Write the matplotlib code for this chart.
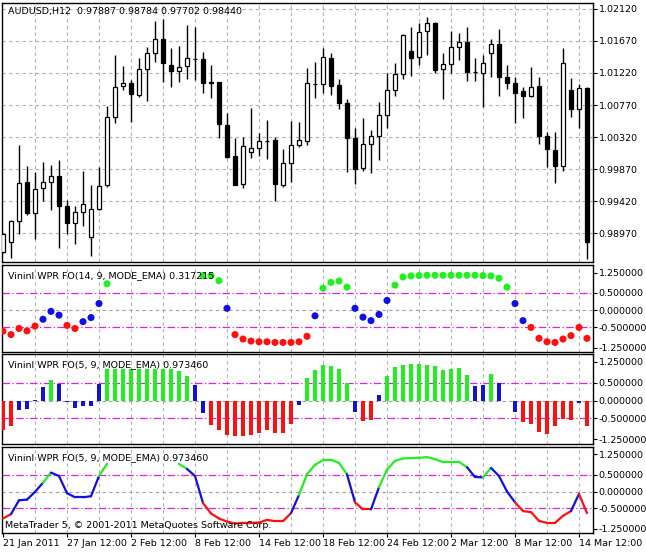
import matplotlib
matplotlib.use("Agg")
import matplotlib.pyplot as plt
import numpy as np

opens = [0.98702,0.98843,0.99142,0.99685,0.99250,0.99601,0.99685,0.99774,0.99353,0.99109,
         0.99264,0.98913,0.99306,0.99643,1.00608,1.01039,1.01076,1.00912,1.01273,1.01497,
         1.01694,1.01333,1.01254,1.01324,1.01418,1.01413,1.01099,1.01099,1.00491,1.00055,
         0.99657,1.00107,1.00163,1.00266,1.00280,0.99639,0.99952,1.00201,1.00270,1.01067,
         1.01062,1.01427,1.01048,1.00795,1.00303,0.99882,1.00219,1.00331,1.00626,1.00982,
         1.01206,1.01530,1.01441,1.01811,1.01919,1.01273,1.01343,1.01591,1.01661,1.01230,
         1.01216,1.01497,1.01626,1.01170,1.01076,1.00968,1.00903,1.01039,1.00341,1.00140,
         0.99919,1.00982,1.00720,1.01006]
highs = [0.98969,0.99156,1.00210,0.99919,0.99835,0.99966,0.99929,0.99999,0.99437,0.99353,
         0.99845,0.99648,0.99905,1.00757,1.01474,1.01320,1.01123,1.01427,1.01591,1.01956,
         1.01975,1.01568,1.01600,1.01895,1.01872,1.01521,1.01333,1.01099,1.00664,1.00313,
         1.00317,1.00734,1.00383,1.00561,1.00327,1.00154,1.00547,1.00537,1.01287,1.01380,
         1.01568,1.01497,1.01137,1.00856,1.00444,1.00584,1.00420,1.00809,1.01216,1.01357,
         1.01764,1.01862,1.01928,1.02012,1.01942,1.01497,1.01811,1.01778,1.01872,1.01427,
         1.01474,1.01699,1.01839,1.01333,1.01170,1.01029,1.01310,1.01170,1.00388,1.00397,
         1.01568,1.01151,1.01067,1.01020]
lows = [0.98688,0.98618,0.98955,0.99227,0.98885,0.99414,0.99287,0.98758,0.98955,0.98815,
        0.99063,0.98641,0.99287,0.99624,1.00514,1.00982,1.00537,1.00889,1.00828,1.01380,
        1.01099,1.01029,1.01099,1.01137,1.01123,1.00945,1.00875,1.00303,1.00022,0.99639,
        0.99601,1.00032,1.00055,1.00008,0.99414,0.99624,0.99681,1.00186,1.00210,1.00875,
        1.00936,1.00912,1.00711,0.99835,0.99657,0.99849,0.99812,0.99999,1.00453,1.00898,
        1.01137,1.01184,1.01333,1.01474,1.01216,1.00851,1.01216,1.01404,1.01113,1.01113,
        1.00748,1.01160,1.00903,1.00992,1.00523,1.00584,1.00879,1.00219,0.99896,0.99671,
        0.99849,1.00608,1.00453,0.98604]
closes = [0.98955,0.99142,0.99671,0.99250,0.99587,0.99685,0.99774,0.99344,0.99109,0.99269,
          0.99376,0.99306,0.99634,1.00598,1.01029,1.01076,1.00921,1.01273,1.01497,1.01694,
          1.01357,1.01254,1.01310,1.01427,1.01418,1.01076,1.01076,1.00500,1.00046,0.99648,
          1.00196,1.00163,1.00270,1.00266,0.99657,0.99952,1.00210,1.00280,1.01076,1.01067,
          1.01441,1.01043,1.00795,1.00303,0.99873,1.00219,1.00331,1.00626,1.00982,1.01206,
          1.01755,1.01436,1.01792,1.01919,1.01264,1.01343,1.01591,1.01661,1.01240,1.01230,
          1.01357,1.01626,1.01170,1.01076,1.00945,1.00903,1.01029,1.00341,1.00149,0.99919,
          1.01357,1.00720,1.01006,0.98838]

nan = np.nan
dots = [-0.62,-0.72,-0.54,-0.61,-0.47,-0.27,-0.04,-0.15,-0.45,-0.54,-0.34,-0.22,0.19,0.77,
        nan,nan,nan,nan,nan,nan,nan,nan,nan,nan,nan,
        1.01,1.01,0.86,0.05,-0.72,-0.85,-0.91,-0.93,-0.93,-0.95,-0.95,-0.95,-0.93,-0.77,
        -0.17,0.64,0.81,0.85,0.67,0.05,-0.21,-0.31,-0.13,0.28,0.73,0.97,1.0,1.01,1.02,1.02,
        1.02,1.02,1.02,1.02,1.02,1.01,1.0,0.93,0.67,0.19,-0.31,-0.51,-0.83,-0.93,-0.95,
        -0.85,-0.75,-0.51,-0.83]
dot_cls = list("rrrrrbbbrrbbbg" + "ggggggggggg" + "gggbrrrrrrrrrr" + "bggggbbbbb" +
               "ggggggggggggggg" + "bbrrrrrrrr")

bars = [-0.84,-0.73,-0.27,-0.24,0.03,0.38,0.58,0.47,-0.05,-0.22,-0.16,-0.16,0.47,
        0.89,0.89,0.89,0.89,0.89,0.89,0.89,0.89,0.89,0.84,0.69,0.43,-0.35,-0.68,-0.84,
        -0.98,-1.0,-1.0,-0.98,-0.93,-0.84,-0.91,-0.91,-0.66,-0.13,0.63,0.86,1.0,0.97,0.89,
        0.5,-0.33,-0.58,-0.56,0.15,0.69,0.94,1.0,1.03,1.03,1.01,0.97,0.86,0.89,0.91,0.72,
        0.41,0.43,0.74,0.5,0.0,-0.33,-0.61,-0.65,-0.89,-0.95,-0.72,-0.51,-0.54,-0.07,-0.73]
bar_cls = list("rrbbbbgbbbbbb" + "gggggggggggbb" + "rrrrrrrrrrrb" + "gggggg" + "brrb" +
               "ggggggggggg" + "bbgbbb" + "rrrrrrrbr")

line = [-0.8,-0.67,-0.26,-0.24,-0.01,0.26,0.56,0.46,-0.05,-0.17,-0.17,-0.14,0.46,0.82,
        nan,nan,nan,nan,nan,nan,nan,nan,
        0.82,0.67,0.46,-0.34,-0.65,-0.8,-0.89,-0.95,-0.93,-0.93,-0.92,-0.84,-0.88,-0.88,
        -0.64,-0.1,0.51,0.79,0.93,0.94,0.85,0.51,-0.32,-0.53,-0.53,0.13,0.65,0.91,0.98,
        0.99,1.0,1.02,0.96,0.87,0.87,0.88,0.72,0.43,0.42,0.7,0.46,0.0,-0.32,-0.58,-0.61,
        -0.87,-0.93,-0.93,-0.72,-0.58,-0.07,-0.64]

tick_idx = [0, 8, 16, 24, 32, 40, 48, 56, 64, 72]
tick_labels = ["21 Jan 2011", "27 Jan 12:00", "2 Feb 12:00", "8 Feb 12:00", "14 Feb 12:00",
               "18 Feb 12:00", "24 Feb 12:00", "2 Mar 12:00", "8 Mar 12:00", "14 Mar 12:00"]
price_ticks = [1.02120, 1.01670, 1.01220, 1.00770, 1.00320, 0.99870, 0.99420, 0.98970]
ind_ticks = [1.1, 0.5, 0.0, -0.5, -1.1]
ind_labels = ["1.250000", "0.500000", "0.000000", "-0.500000", "-1.250000"]

CMAP = {"r": "#ff1010", "g": "#22ee22", "b": "#1010e0"}
W, H = 646, 554
fig = plt.figure(figsize=(W/100, H/100), dpi=100)
plt.rcParams['font.family'] = ['DejaVu Sans']
FS = 6.8
x0, x1 = 2, 593
XL = (-0.125, 73.75)

def mkax(top, bot):
    ax = fig.add_axes([x0/W, 1-bot/H, (x1-x0)/W, (bot-top)/H])
    ax.set_xlim(*XL)
    ax.yaxis.tick_right()
    ax.tick_params(axis='y', labelsize=FS, length=3, pad=1, width=0.8)
    ax.set_xticks([])
    for s in ax.spines.values():
        s.set_linewidth(1.0)
    for i in range(4, 74, 4):
        ax.axvline(i, color="#b0b0b0", ls=(0, (3, 3)), lw=0.8, zorder=0)
    return ax

n = len(opens)
xs = np.arange(n)

ax = mkax(3, 262)
ax.set_ylim(0.98563, 1.02204)
ax.set_yticks(price_ticks)
ax.set_yticklabels([f"{v:.5f}" for v in price_ticks])
for v in price_ticks:
    ax.axhline(v, color="#b0b0b0", ls=(0, (3, 3)), lw=0.8, zorder=0)
o = np.array(opens); c = np.array(closes)
ax.vlines(xs, lows, highs, color="black", lw=1.0, zorder=2)
bull = c >= o
ax.bar(xs, np.maximum(np.abs(c-o), 0.00003), bottom=np.minimum(o, c), width=0.62,
       color=np.where(bull, "white", "black"), edgecolor="black", linewidth=0.9, zorder=3)
ax.text(0.01, 0.985, "AUDUSD,H12  0.97887 0.98784 0.97702 0.98440", transform=ax.transAxes,
        fontsize=FS, va="top", ha="left")

ylim_i = (-1.23, 1.32)
def ind_ax(top, bot, title):
    a = mkax(top, bot)
    a.set_ylim(*ylim_i)
    a.set_yticks(ind_ticks)
    a.set_yticklabels(ind_labels)
    a.axhline(0, color="#a0a0a0", ls=(0, (3, 3)), lw=0.8, zorder=0)
    for v in (0.5, -0.5):
        a.axhline(v, color="#dd22dd", ls=(0, (6, 2, 1, 2)), lw=0.9, zorder=1)
    a.text(0.01, 0.93, title, transform=a.transAxes, fontsize=FS, va="top", ha="left",
           zorder=5)
    return a

a1 = ind_ax(265, 352, "VininI WPR FO(14, 9, MODE_EMA) 0.317215")
a1.scatter(xs, dots, s=26, c=[CMAP[k] for k in dot_cls], zorder=3, linewidths=0)

a2 = ind_ax(354, 444, "VininI WPR FO(5, 9, MODE_EMA) 0.973460")
a2.bar(xs, bars, width=0.55, color=[CMAP[k] for k in bar_cls], zorder=3)

a3 = ind_ax(447, 533, "VininI WPR FO(5, 9, MODE_EMA) 0.973460")
for i in range(1, n):
    v0, v1 = line[i-1], line[i]
    if np.isnan(v0) or np.isnan(v1):
        continue
    col = "g" if v1 > 0.5 else ("r" if v1 < -0.5 else "b")
    a3.plot([i-1, i], [v0, v1], color=CMAP[col], lw=1.6, zorder=3, solid_capstyle="round")
a3.text(0.005, 0.04, "MetaTrader 5, © 2001-2011 MetaQuotes Software Corp.", transform=a3.transAxes,
        fontsize=FS, va="bottom", ha="left", zorder=5)
a3.set_xticks(tick_idx)
a3.set_xticklabels(tick_labels, ha="left")
a3.tick_params(axis='x', labelsize=FS, length=3, pad=1)

fig.savefig("out.png", dpi=100)
